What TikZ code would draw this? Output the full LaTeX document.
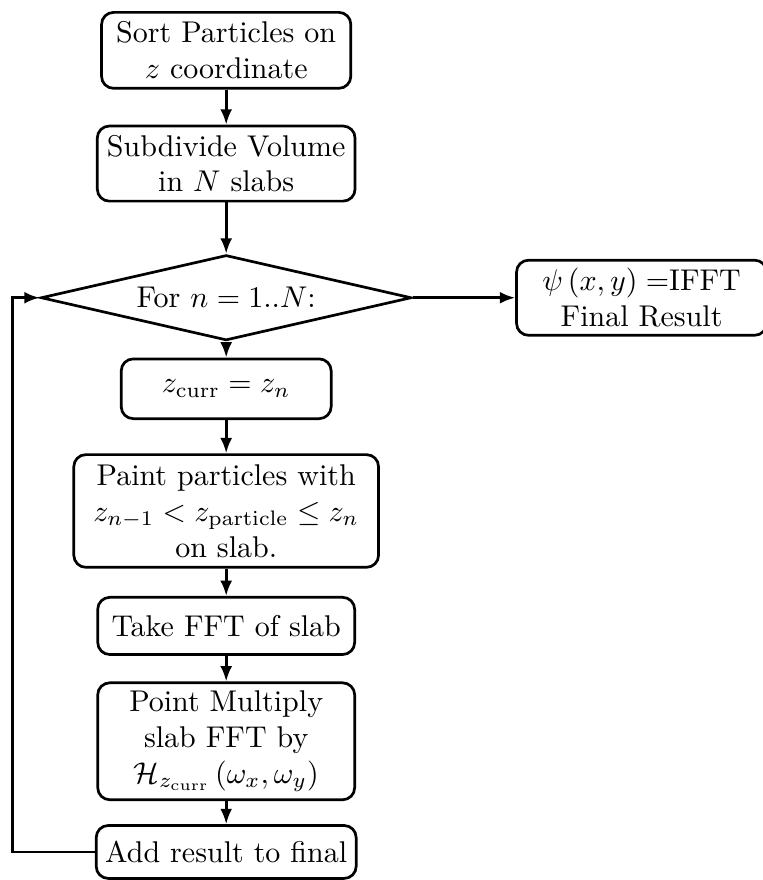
\documentclass[tikz,border=0pt]{standalone}
\usepackage{amsmath,amssymb}
\usepackage{tikz}
\usetikzlibrary{positioning,arrows.meta,shapes.geometric}

\begin{document}
\begin{tikzpicture}[node distance=0.32cm, line width=0.9pt, >={Latex[length=1.8mm,width=1.4mm]},
  stepbox/.style={draw, rounded corners=4pt, align=center, inner xsep=3pt, inner ysep=2pt}]
  \useasboundingbox (0,0) rectangle (8.93,-10.31);
  \node[stepbox, minimum width=2.92cm, minimum height=0.89cm] (sort) at (2.65,-0.59) {Sort Particles on\\ $z$ coordinate};
  \node[stepbox, minimum width=3.02cm, minimum height=0.88cm, below=0.41cm of sort] (slabs) {Subdivide Volume\\ in $N$ slabs};
  \node[draw, diamond, aspect=4.3, minimum width=4.34cm, minimum height=1.0cm, inner sep=0pt, below=0.60cm of slabs] (loop) {For $n=1..N$:};
  \node[stepbox, minimum width=2.93cm, minimum height=0.88cm, right=1.2cm of loop] (final) {$\psi\left(x,y\right) =$IFFT\\ Final Result};
  \node[stepbox, minimum width=2.46cm, minimum height=0.7cm, below=0.185cm of loop] (zcurr) {$z_{\mathrm{curr}}=z_n$};
  \node[stepbox, minimum width=3.57cm, minimum height=1.32cm, below=0.39cm of zcurr] (paint) {Paint particles with\\ $z_{n-1}<z_{\mathrm{particle}}\leq z_n$\\ on slab.};
  \node[stepbox, minimum width=3.01cm, minimum height=0.67cm, below=of paint] (fft) {Take FFT of slab};
  \node[stepbox, minimum width=3.01cm, minimum height=1.37cm, below=0.30cm of fft] (mult) {Point Multiply\\ slab FFT by\\ $\mathcal{H}_{z_{\mathrm{curr}}}\left(\omega_x,\omega_y\right)$};
  \node[stepbox, minimum width=3.01cm, minimum height=0.62cm, below=0.27cm of mult] (add) {Add result to final};
  \coordinate (back) at (0.15,0);

  \draw[->] (sort) -- (slabs);
  \draw[->] (slabs) -- (loop);
  \draw[->] (loop) -- (final);
  \draw[->] (loop) -- (zcurr);
  \draw[->] (zcurr) -- (paint);
  \draw[->] (paint) -- (fft);
  \draw[->] (fft) -- (mult);
  \draw[->] (mult) -- (add);
  \draw[->] (add.west) -- (add.west -| back) |- (loop.west);
\end{tikzpicture}
\end{document}
